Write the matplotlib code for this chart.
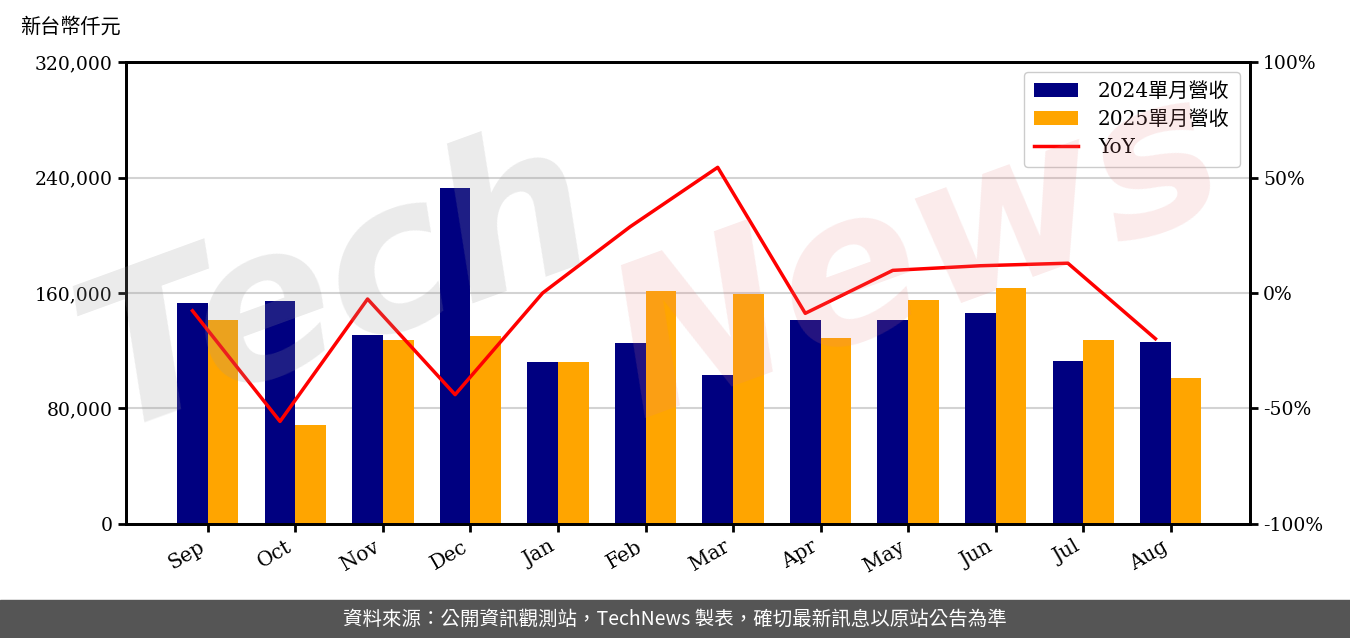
import numpy as np
import matplotlib.pyplot as plt
from matplotlib.patches import Rectangle

plt.rcParams['font.family'] = ['DejaVu Serif', 'Noto Sans CJK TC']

months = ["Sep", "Oct", "Nov", "Dec", "Jan", "Feb", "Mar", "Apr", "May", "Jun", "Jul", "Aug"]
rev_2024 = [153100, 154500, 130900, 232700, 112200, 125400, 103200, 141300, 141300, 146200, 112900, 126100]
rev_2025 = [141300, 68600, 127500, 130200, 112200, 161400, 159300, 128800, 155200, 163500, 127500, 101100]
yoy = [-7.7, -55.6, -2.6, -44.0, 0.0, 28.7, 54.4, -8.8, 9.8, 11.8, 12.9, -19.8]

x = np.arange(len(months))
w = 0.35

fig = plt.figure(figsize=(13.5, 6.38), dpi=100)
ax = fig.add_axes([0.0933, 0.1787, 0.8326, 0.7241])
ax2 = ax.twinx()

ax.set_axisbelow(True)
ax.yaxis.grid(True, color='#d3d3d3', linewidth=1.5)
b1 = ax.bar(x, rev_2024, width=w, color='#000080', label='2024單月營收')
b2 = ax.bar(x + w, rev_2025, width=w, color='#FFA500', label='2025單月營收')
ln, = ax2.plot(x, yoy, color='red', linewidth=2.5, label='YoY')

ax.set_ylim(0, 320000)
ax.set_yticks(np.arange(0, 320001, 80000))
ax.set_yticklabels([f"{v:,}" for v in range(0, 320001, 80000)], fontsize=13.5)
ax2.set_ylim(-100, 100)
ax2.set_yticks(np.arange(-100, 101, 50))
ax2.set_yticklabels([f"{v}%" for v in range(-100, 101, 50)], fontsize=13.5)
ax.set_xticks(x + w / 2)
ax.set_xticklabels(months, rotation=30, ha='right', fontsize=14.5)
ax.set_xlim(-0.76, 12.08)

for a in (ax, ax2):
    for s in a.spines.values():
        s.set_linewidth(2)
    a.tick_params(width=2, length=6)

ax2.legend(handles=[b1, b2, ln], loc='upper right', fontsize=14.5,
           handlelength=2.2, borderpad=0.5, labelspacing=0.45, handletextpad=1.0,
           framealpha=1, edgecolor='#cccccc')

fig.text(0.015, 0.957, "新台幣仟元", fontsize=14.5, family=['Noto Sans CJK TC'], ha='left', va='center')

# watermark
fig.text(0.25, 0.55, "Tech", fontsize=150, color='#9a9a9a', alpha=0.2, rotation=20,
         ha='center', va='center', style='italic', weight='bold', family='DejaVu Sans', zorder=20)
fig.text(0.68, 0.6, "News", fontsize=150, color='#e88080', alpha=0.16, rotation=20,
         ha='center', va='center', style='italic', weight='bold', family='DejaVu Sans', zorder=20)

# footer
fig.patches.append(Rectangle((0, 0), 1, 0.0596, transform=fig.transFigure, color='#555555', zorder=0))
fig.text(0.5, 0.0298, "資料來源：公開資訊觀測站，TechNews 製表，確切最新訊息以原站公告為準",
         color='white', fontsize=14, ha='center', va='center', family=['Noto Sans CJK TC'])

fig.savefig("out.png", dpi=100)
